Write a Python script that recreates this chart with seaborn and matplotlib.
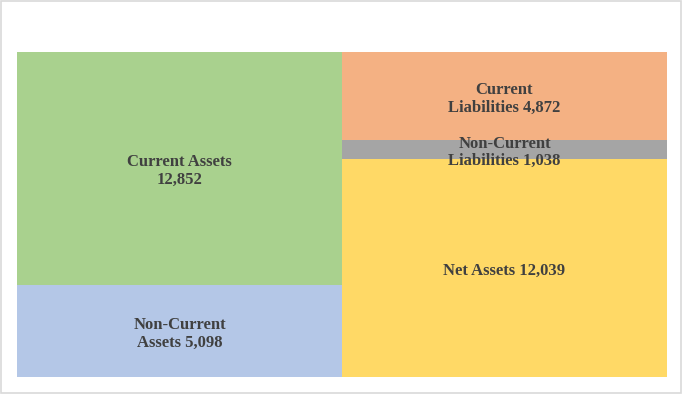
import matplotlib
matplotlib.use('Agg')
from matplotlib import pyplot as plt
from matplotlib.patches import Rectangle
import seaborn as sns
import pandas as pd

bars = ['Assets', 'Assets', 'Liabilities', 'Liabilities', 'Liabilities']
segments = ['Non-Current\nAssets', 'Current Assets\n', 'Net Assets', 'Non-Current\nLiabilities', 'Current\nLiabilities']
values = [5098, 12852, 12039, 1038, 4872]
colors = ['#B4C7E7', '#A9D18E', '#FFD966', '#A5A5A5', '#F4B183']

FD_LABEL = {'family': 'Liberation Serif', 'weight': 'bold', 'size': 12}

df = pd.DataFrame({'bar': bars, 'segment': segments, 'value': values, 'color': colors})
df['top'] = df.groupby('bar')['value'].cumsum()
df['bottom'] = df['top'] - df['value']

sns.set_style('white')
fig = plt.figure(figsize=(6.82, 3.94), dpi=100)
ax = fig.add_axes([17 / 682, 17 / 394, 650 / 682, 325 / 394])

# cumulative tops drawn from the highest layer down so lower ones cover them
for _, row in df.sort_values('top', ascending=False).iterrows():
    sns.barplot(x=[row['bar']], y=[row['top']], order=['Assets', 'Liabilities'],
                color=row['color'], width=1.0, saturation=1, linewidth=0, ax=ax)

for _, row in df.iterrows():
    xpos = 0 if row['bar'] == 'Assets' else 1
    name = row['segment']
    if name.endswith('\n'):
        text = name.strip() + '\n' + f"{row['value']:,}"
    else:
        text = name + f" {row['value']:,}"
    ax.annotate(text, (xpos, (row['top'] + row['bottom']) / 2), xytext=(0, -2),
                textcoords='offset points', ha='center', va='center',
                color='#404040', fontfamily=FD_LABEL['family'], fontweight=FD_LABEL['weight'],
                fontsize=FD_LABEL['size'], linespacing=1.15)

ax.set_xlim(-0.5, 1.5)
ax.set_ylim(0, max(df['top']))
ax.axis('off')

fig.patches.append(Rectangle((1 / 682, 1.5 / 394), 679.5 / 682, 391.5 / 394, transform=fig.transFigure,
                             fill=False, edgecolor='#D9D9D9', linewidth=1.2))

fig.savefig('out.png', dpi=100)
